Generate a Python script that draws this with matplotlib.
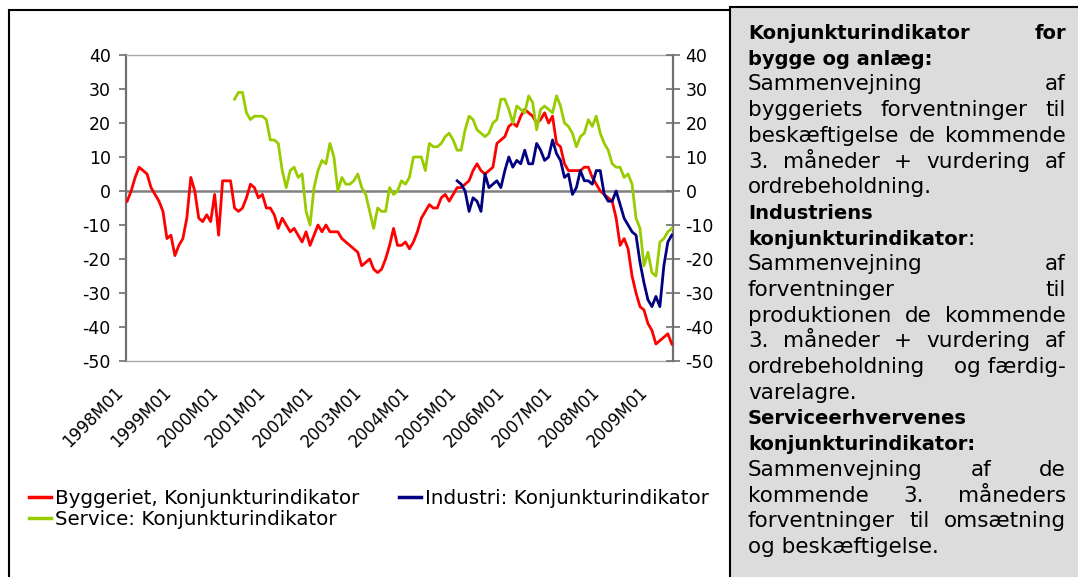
import matplotlib
matplotlib.use('Agg')
import numpy as np
import matplotlib.pyplot as plt
from matplotlib.patches import Rectangle
from matplotlib.lines import Line2D
from matplotlib.transforms import ScaledTranslation

plt.rcParams['axes.unicode_minus'] = False
nan = np.nan

# monthly indicators, 1998M01 .. 2009M06
bygge = [-3, 0, 4, 7, 6, 5, 1, -1, -3, -6, -14, -13, -19, -16, -14, -8, 4, 0, -8, -9,
         -7, -9, -1, -13, 3, 3, 3, -5, -6, -5, -2, 2, 1, -2, -1, -5, -5, -7, -11, -8,
         -10, -12, -11, -13, -15, -12, -16, -13, -10, -12, -10, -12, -12, -12, -14, -15, -16, -17, -18, -22,
         -21, -20, -23, -24, -23, -20, -16, -11, -16, -16, -15, -17, -15, -12, -8, -6, -4, -5, -5, -2,
         -1, -3, -1, 1, 1, 2, 3, 6, 8, 6, 5, 6, 7, 14, 15, 16, 19, 20, 19, 22,
         24, 23, 22, 20, 21, 23, 20, 22, 14, 13, 8, 6, 6, 6, 6, 7, 7, 4, 2, 0,
         -1, -2, -3, -8, -16, -14, -17, -25, -30, -34, -35, -39, -41, -45, -44, -43, -42, -45]

service = [nan] * 27 + [
    27, 29, 29, 23, 21, 22, 22, 22, 21, 15, 15, 14, 6, 1, 6, 7, 4, 5, -6, -10,
    1, 6, 9, 8, 14, 10, 0, 4, 2, 2, 3, 5, 1, -1, -6, -11, -5, -6, -6, 1,
    -1, 0, 3, 2, 4, 10, 10, 10, 6, 14, 13, 13, 14, 16, 17, 15, 12, 12, 18, 22,
    21, 18, 17, 16, 17, 20, 21, 27, 27, 24, 20, 25, 24, 23, 28, 26, 18, 24, 25, 24,
    23, 28, 25, 20, 19, 17, 13, 16, 17, 21, 19, 22, 17, 14, 12, 8, 7, 7, 4, 5,
    2, -8, -11, -22, -18, -24, -25, -15, -14, -12, -11]

industri = [nan] * 83 + [
    3, 2, 0, -6, -2, -3, -6, 5, 1, 2, 3, 1, 6, 10, 7, 9, 8, 12, 8, 8,
    14, 12, 9, 10, 15, 11, 9, 4, 5, -1, 1, 6, 3, 3, 2, 6, 6, -1, -3, -3,
    0, -4, -8, -10, -12, -13, -21, -27, -32, -34, -31, -34, -22, -15, -13]

year_labels = ['1998M01', '1999M01', '2000M01', '2001M01', '2002M01', '2003M01',
               '2004M01', '2005M01', '2006M01', '2007M01', '2008M01', '2009M01']
series_names = ['Byggeriet, Konjunkturindikator', 'Industri: Konjunkturindikator',
                'Service: Konjunkturindikator']

panel_lines = [
    ('Konjunkturindikator for', 'bold', True),
    ('bygge og anlæg:', 'bold', False),
    ('Sammenvejning af', 'normal', True),
    ('byggeriets forventninger til', 'normal', True),
    ('beskæftigelse de kommende', 'normal', True),
    ('3. måneder + vurdering af', 'normal', True),
    ('ordrebeholdning.', 'normal', False),
    ('Industriens', 'bold', False),
    ('konjunkturindikator|:', 'mixed', False),
    ('Sammenvejning af', 'normal', True),
    ('forventninger til', 'normal', True),
    ('produktionen de kommende', 'normal', True),
    ('3. måneder + vurdering af', 'normal', True),
    ('ordrebeholdning|og færdig-', 'normal', True),
    ('varelagre.', 'normal', False),
    ('Serviceerhvervenes', 'bold', False),
    ('konjunkturindikator:', 'bold', False),
    ('Sammenvejning af de', 'normal', True),
    ('kommende 3. måneders', 'normal', True),
    ('forventninger til omsætning', 'normal', True),
    ('og beskæftigelse.', 'normal', False),
]

RED, NAVY, GREEN = '#ff0000', '#000080', '#99cc00'
W, H = 1078, 577
fig = plt.figure(figsize=(W / 100, H / 100), dpi=100)

# outer frames
fig.patches.append(Rectangle((9 / W, -0.1), 722 / W, 1.1 - 10 / H, transform=fig.transFigure,
                             fill=False, ec='black', lw=1.5))
fig.patches.append(Rectangle((730 / W, -0.1), 400 / W, 1.1 - 7 / H, transform=fig.transFigure,
                             fc='#dcdcdc', ec='black', lw=1.5))

ax = fig.add_axes([126 / W, 1 - 361 / H, 547 / W, 306 / H])
x = np.arange(len(bygge))
ax.axhline(0, color='#808080', lw=1.8, zorder=1)
ax.plot(x, bygge, color=RED, lw=2.0, zorder=3)
ax.plot(x, industri, color=NAVY, lw=2.0, zorder=3)
ax.plot(x, service, color=GREEN, lw=2.0, zorder=3)
ax.set_xlim(-0.3, 137.3)
ax.set_ylim(-50, 40)

for s in ['left', 'right']:
    ax.spines[s].set_color('#707070')
    ax.spines[s].set_linewidth(1.6)
for s in ['top', 'bottom']:
    ax.spines[s].set_color('#a8a8a8')
    ax.spines[s].set_linewidth(1.0)

ax.set_yticks(range(-50, 41, 10))
ax.tick_params(axis='y', direction='out', length=5, width=1.2, color='#707070',
               labelsize=12.5, pad=6)
ax.set_xticks(range(0, len(bygge), 12))
ax.set_xticklabels(year_labels, rotation=45, ha='right', va='top', rotation_mode='anchor')
ax.tick_params(axis='x', length=0, pad=16, labelsize=12)
shift = ScaledTranslation(-0.13, 0, fig.dpi_scale_trans)
for lab in ax.get_xticklabels():
    lab.set_transform(lab.get_transform() + shift)

ax2 = ax.twinx()
ax2.set_ylim(-50, 40)
ax2.set_yticks(range(-50, 41, 10))
for s in ax2.spines.values():
    s.set_visible(False)
ax2.tick_params(axis='y', direction='inout', length=10, width=1.2, color='#707070',
                labelsize=12.5, pad=4)

handles = [Line2D([], [], color=RED, lw=2.5), Line2D([], [], color=GREEN, lw=2.5),
           Line2D([], [], color=NAVY, lw=2.5)]
fig.legend(handles, [series_names[0], series_names[2], series_names[1]], ncol=2,
           loc='upper left', bbox_to_anchor=(29 / W, 1 - 489 / H), frameon=False,
           fontsize=14.3, handlelength=1.1, handletextpad=0.2, columnspacing=2.0,
           labelspacing=0.08, borderpad=0, borderaxespad=0)

# justified text panel on the right
renderer = fig.canvas.get_renderer()
LEFT, RIGHT = 748, 1066
for k, (line, style, justify) in enumerate(panel_lines):
    y = 1 - (39 + 25.7 * k) / H
    if '|' in line:
        parts = line.split('|')
    elif justify:
        parts = line.split(' ')
    else:
        parts = [line]
    if style == 'mixed':
        weights = ['bold'] + ['normal'] * (len(parts) - 1)
    else:
        weights = [style] * len(parts)
    texts = [fig.text(0, y, p, fontsize=14.0 if w == 'bold' else 15.5, weight=w,
                      va='baseline', ha='left', color='black') for p, w in zip(parts, weights)]
    widths = [t.get_window_extent(renderer).width for t in texts]
    gap = (RIGHT - LEFT - sum(widths)) / (len(parts) - 1) if justify and len(parts) > 1 else 0
    xp = LEFT
    for t, w in zip(texts, widths):
        t.set_x(xp / W)
        xp += w + gap

fig.savefig('out.png', dpi=100)
